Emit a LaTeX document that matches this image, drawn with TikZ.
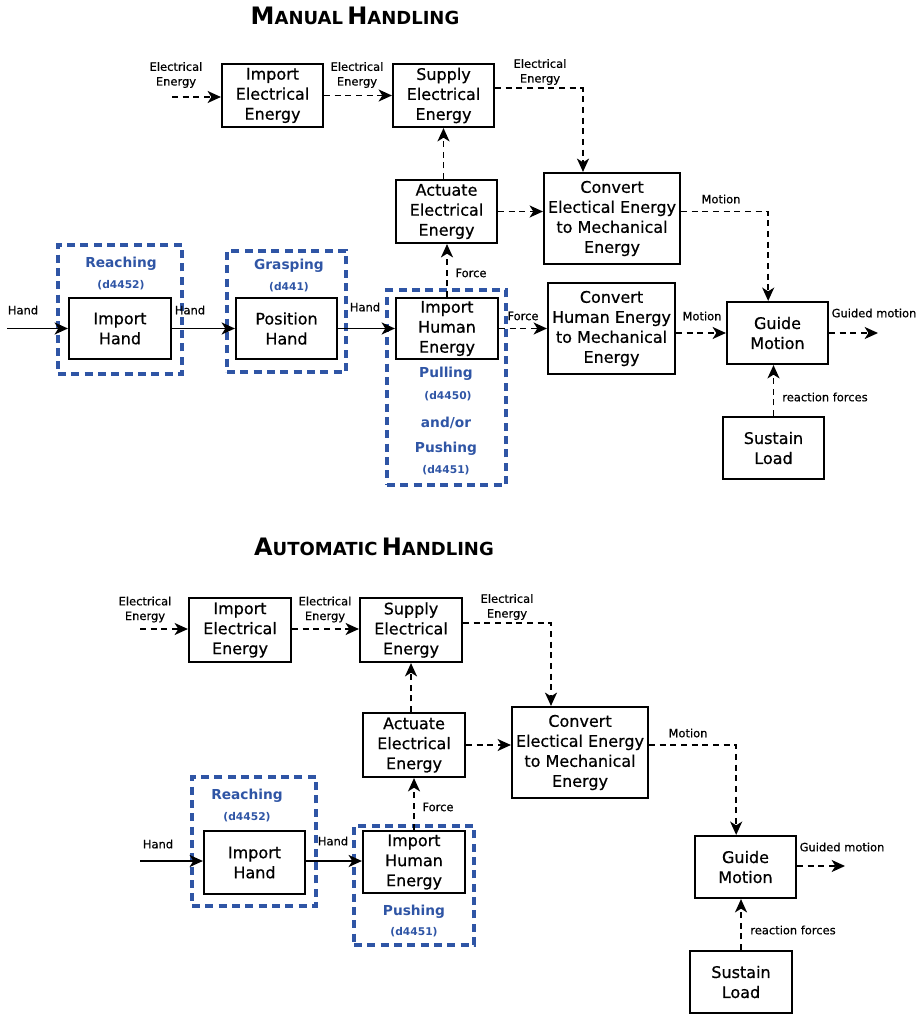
\documentclass[tikz,border=0pt]{standalone}
\usepackage{fontspec}
\setmainfont{DejaVu Sans}
\newfontfamily\heavyf{DejaVu Sans}[FakeBold=0.6]
\usetikzlibrary{arrows.meta}
\definecolor{blueC}{RGB}{47,85,165}
\newcommand{\sctitle}[2]{{\bfseries\fontsize{18}{20}\selectfont #1\fontsize{13.5}{15}\selectfont #2}}
\begin{document}
\begin{tikzpicture}[x=0.75pt,y=-0.75pt,
  box/.style={draw, line width=1.6pt, fill=white, align=center, inner sep=0pt,
    font=\heavyf\fontsize{12}{15}\selectfont},
  sz/.style 2 args={minimum width=#1*0.75pt, minimum height=#2*0.75pt},
  grp/.style={draw=blueC, line width=2.3pt, dash pattern=on 6pt off 4pt, inner sep=0pt},
  lbl/.style={align=center, inner sep=0pt, font=\heavyf\fontsize{8.6}{11}\selectfont},
  blt/.style={text=blueC, inner sep=0pt, font=\bfseries\fontsize{10.3}{12}\selectfont},
  bls/.style={text=blueC, inner sep=0pt, font=\bfseries\fontsize{8}{9}\selectfont},
  tip/.style={-{Stealth[length=10pt,width=9pt,inset=2.8pt]}},
  sa/.style={line width=1.4pt, tip},
  da/.style={line width=1.3pt, dash pattern=on 4.5pt off 3.5pt, tip},
  ttl/.style={inner sep=0pt}
]
\useasboundingbox (0,0) rectangle (923,1014);

%================ MANUAL HANDLING ================
\node[ttl] (t1) at (355,16) {\sctitle{M}{ANUAL} \sctitle{H}{ANDLING}};

% dashed groups
\node[grp, sz={124}{129}] (rb1) at (120,309.5) {};
\node[grp, sz={119}{121}] (gb1) at (286.5,311.5) {};
\node[grp, sz={119}{195}] (pb1) at (446.5,387.5) {};

% boxes
\node[box, sz={101}{63}] (ie1) at (272.5,95.5) {Import\\Electrical\\Energy};
\node[box, sz={101}{63}] (se1) at (443.5,95.5) {Supply\\Electrical\\Energy};
\node[box, sz={101}{63}] (ae1) at (446.5,211.5) {Actuate\\Electrical\\Energy};
\node[box, sz={136}{91}] (ce1) at (612,218.5) {Convert\\Electical Energy\\to Mechanical\\Energy};
\node[box, sz={102}{61}] (ih1) at (120,328.5) {Import\\Hand};
\node[box, sz={101}{61}] (ph1) at (286.5,328.5) {Position\\Hand};
\node[box, sz={102}{61}] (hu1) at (447,328.5) {Import\\Human\\Energy};
\node[box, sz={127}{91}] (ch1) at (611.5,328.5) {Convert\\Human Energy\\to Mechanical\\Energy};
\node[box, sz={101}{62}] (gm1) at (777.5,333) {Guide\\Motion};
\node[box, sz={101}{62}] (sl1) at (773.5,448) {Sustain\\Load};

% blue texts
\node[blt] (r1a) at (121,264) {Reaching};
\node[bls] (r1b) at (121,285) {(d4452)};
\node[blt] (g1a) at (289,266) {Grasping};
\node[bls] (g1b) at (289,287) {(d441)};
\node[blt] (p1a) at (446,374) {Pulling};
\node[bls] (p1b) at (448,396) {(d4450)};
\node[blt] (p1c) at (446,423) {and/or};
\node[blt] (p1d) at (446,449) {Pushing};
\node[bls] (p1e) at (446,470) {(d4451)};

% free ends
\coordinate (ein1) at (172,97);
\coordinate (hin1) at (7,328.5);
\coordinate (gout1) at (878,333);

% connectors
\draw[da] (ein1) -- (ein1 -| ie1.west);
\draw[da] (ie1.east) -- (se1.west);
\draw[da] ([yshift=5.5pt]se1.east) -| ([xshift=-21.75pt]ce1.north);
\draw[da] (se1.south |- ae1.north) -- (se1.south);
\draw[da] (ae1.east) -- (ae1.east -| ce1.west);
\draw[da] (ae1.east -| ce1.east) -| ([xshift=-7pt]gm1.north);
\draw[da] (hu1.north) -- (hu1.north |- ae1.south);
\draw[sa] (hin1) -- (ih1.west);
\draw[sa] (ih1.east) -- (ph1.west);
\draw[sa] (ph1.east) -- (hu1.west);
\draw[da] (hu1.east) -- (hu1.east -| ch1.west);
\draw[da] (ch1.east |- gm1.west) -- (gm1.west);
\draw[da] (gm1.east) -- (gout1);
\draw[da] (sl1.north) -- (sl1.north |- gm1.south);

% labels
\node[lbl] (l1) at (176,75) {Electrical\\Energy};
\node[lbl] (l2) at (357,75) {Electrical\\Energy};
\node[lbl] (l3) at (540,72) {Electrical\\Energy};
\node[lbl] (l4) at (721,199) {Motion};
\node[lbl] (l5) at (471,273) {Force};
\node[lbl] (l6) at (23,310) {Hand};
\node[lbl] (l7) at (190,310) {Hand};
\node[lbl] (l8) at (365,307) {Hand};
\node[lbl] (l9) at (523,316) {Force};
\node[lbl] (l10) at (702,316) {Motion};
\node[lbl] (l11) at (874,313) {Guided motion};
\node[lbl] (l12) at (825,397) {reaction forces};

%================ AUTOMATIC HANDLING ================
\node[ttl] (t2) at (374,547) {\sctitle{A}{UTOMATIC} \sctitle{H}{ANDLING}};

\node[grp, sz={124}{129}] (rb2) at (254,841.5) {};
\node[grp, sz={120}{119}] (pb2) at (414,885.5) {};

\node[box, sz={102}{64}] (ie2) at (240,630) {Import\\Electrical\\Energy};
\node[box, sz={102}{64}] (se2) at (411,630) {Supply\\Electrical\\Energy};
\node[box, sz={102}{64}] (ae2) at (414,745) {Actuate\\Electrical\\Energy};
\node[box, sz={136}{91}] (ce2) at (580,752.5) {Convert\\Electical Energy\\to Mechanical\\Energy};
\node[box, sz={101}{63}] (ih2) at (254.5,862.5) {Import\\Hand};
\node[box, sz={102}{62}] (hu2) at (414,862) {Import\\Human\\Energy};
\node[box, sz={101}{62}] (gm2) at (745.5,867) {Guide\\Motion};
\node[box, sz={102}{62}] (sl2) at (741,982) {Sustain\\Load};

\node[blt] (r2a) at (247,796) {Reaching};
\node[bls] (r2b) at (247,817) {(d4452)};
\node[blt] (p2a) at (414,912) {Pushing};
\node[bls] (p2b) at (414,932) {(d4451)};

\coordinate (ein2) at (140,629);
\coordinate (hin2) at (140,861);
\coordinate (gout2) at (845,866);

\draw[da] (ein2) -- (ein2 -| ie2.west);
\draw[da] (ie2.east |- ein2) -- (se2.west |- ein2);
\draw[da] ([yshift=5.25pt]se2.east) -| ([xshift=-21.75pt]ce2.north);
\draw[da] (se2.south |- ae2.north) -- (se2.south);
\draw[da] (ae2.east) -- (ae2.east -| ce2.west);
\draw[da] (ae2.east -| ce2.east) -| ([xshift=-7pt]gm2.north);
\draw[da] (hu2.north) -- (hu2.north |- ae2.south);
\draw[sa] (hin2) -- (hin2 -| ih2.west);
\draw[sa] (ih2.east |- hin2) -- (hu2.west |- hin2);
\draw[da] (gm2.east |- gout2) -- (gout2);
\draw[da] (sl2.north) -- (sl2.north |- gm2.south);

\node[lbl] (m1) at (145,609.5) {Electrical\\Energy};
\node[lbl] (m2) at (325,609.5) {Electrical\\Energy};
\node[lbl] (m3) at (507,607) {Electrical\\Energy};
\node[lbl] (m4) at (688,733) {Motion};
\node[lbl] (m5) at (438,807) {Force};
\node[lbl] (m6) at (158,844) {Hand};
\node[lbl] (m7) at (333,841) {Hand};
\node[lbl] (m8) at (842,847) {Guided motion};
\node[lbl] (m9) at (793,930) {reaction forces};
\end{tikzpicture}
\end{document}
